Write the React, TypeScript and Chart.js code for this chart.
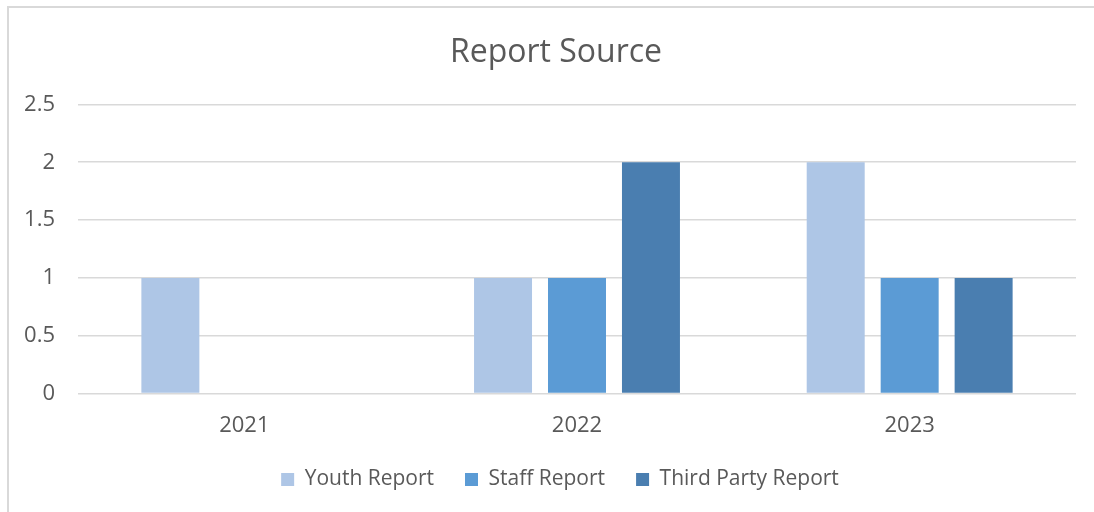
import React, { useEffect, useRef } from "react";
import { Chart, registerables } from "chart.js";

Chart.register(...registerables);

const categories = ["2021", "2022", "2023"];
const youthReport = [1, 1, 2];
const staffReport = [0, 1, 1];
const thirdPartyReport = [0, 2, 1];
const seriesNames = ["Youth Report", "Staff Report", "Third Party Report"];
const seriesColors = ["#AEC6E6", "#5B9BD5", "#4A7EB0"];

const shiftBoxes = {
  id: "shiftBoxes",
  beforeDraw(chart: any) {
    if (chart.titleBlock) {
      chart.titleBlock.left += 6;
      chart.titleBlock.right += 6;
    }
    if (chart.legend) {
      chart.legend.left += 10;
      chart.legend.right += 10;
    }
  },
};

export default function App() {
  const ref = useRef<HTMLCanvasElement | null>(null);
  useEffect(() => {
    if (!ref.current) return;
    const font = "'Open Sans', 'Noto Sans', sans-serif";
    const chart = new Chart(ref.current, {
      type: "bar",
      data: {
        labels: categories,
        datasets: [youthReport, staffReport, thirdPartyReport].map((d, i) => ({
          label: seriesNames[i],
          data: d,
          backgroundColor: seriesColors[i],
          categoryPercentage: 0.667,
          barPercentage: 0.784,
        })),
      },
      options: {
        animation: false,
        responsive: false,
        layout: { padding: { left: 15, right: 18, top: 0, bottom: 12 } },
        plugins: {
          title: {
            display: true,
            text: "Report Source",
            color: "#595959",
            font: { family: font, size: 32, weight: "normal" },
            padding: { top: 26, bottom: 32 },
          },
          legend: {
            position: "bottom",
            labels: {
              color: "#595959",
              font: { family: font, size: 21 },
              boxWidth: 13,
              boxHeight: 13,
              padding: 31,
            },
          },
          tooltip: { enabled: false },
        },
        scales: {
          x: {
            grid: { display: false, drawTicks: false },
            border: { display: false },
            ticks: { color: "#595959", font: { family: font, size: 22 }, padding: 19 },
            afterFit: (scale: any) => {
              scale.height = scale.height - 20;
            },
          },
          y: {
            min: 0,
            max: 2.5,
            ticks: {
              stepSize: 0.5,
              color: "#595959",
              font: { family: font, size: 22 },
              padding: 23,
              callback: (v: any) => String(Number(v)),
            },
            grid: { color: "#D9D9D9", lineWidth: 1.5, drawTicks: false },
            border: { display: false },
            afterFit: (scale: any) => {
              scale.width = 54;
            },
          },
        },
      },
      plugins: [shiftBoxes],
    });
    return () => chart.destroy();
  }, []);
  return (
    <div
      style={{
        position: "absolute",
        left: 7,
        top: 6,
        width: 1085,
        height: 504,
        borderLeft: "2px solid #D9D9D9",
        borderTop: "2px solid #D9D9D9",
        background: "#fff",
        overflow: "hidden",
      }}
    >
      <canvas ref={ref} width={1085} height={504} style={{ display: "block" }} />
    </div>
  );
}
